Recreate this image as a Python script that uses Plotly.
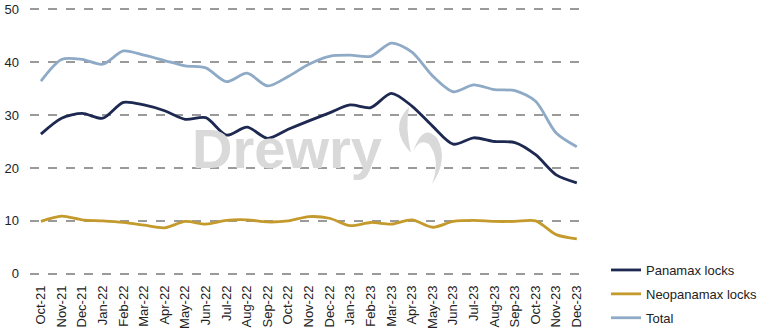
import plotly.graph_objects as go

months = ["Oct-21","Nov-21","Dec-21","Jan-22","Feb-22","Mar-22","Apr-22","May-22","Jun-22",
          "Jul-22","Aug-22","Sep-22","Oct-22","Nov-22","Dec-22","Jan-23","Feb-23","Mar-23",
          "Apr-23","May-23","Jun-23","Jul-23","Aug-23","Sep-23","Oct-23","Nov-23","Dec-23"]

panamax = [26.4, 29.4, 30.3, 29.4, 32.4, 31.9, 30.8, 29.2, 29.5,
           26.2, 27.7, 25.6, 27.3, 28.9, 30.4, 31.9, 31.4, 34.1,
           31.7, 27.9, 24.5, 25.7, 25.0, 24.8, 22.5, 18.7, 17.2]

neopanamax = [9.9, 10.9, 10.2, 10.0, 9.7, 9.2, 8.7, 9.9, 9.4,
              10.1, 10.2, 9.8, 10.0, 10.8, 10.5, 9.1, 9.7, 9.4,
              10.2, 8.8, 9.9, 10.1, 9.9, 9.9, 10.0, 7.4, 6.6]

total = [36.4, 40.5, 40.5, 39.6, 42.1, 41.3, 40.3, 39.3, 38.9,
         36.3, 37.9, 35.5, 37.3, 39.6, 41.1, 41.3, 41.1, 43.6,
         41.9, 37.4, 34.4, 35.7, 34.8, 34.6, 32.6, 26.6, 24.0]

y_ticks = [0, 10, 20, 30, 40, 50]

series = [("Panamax locks", panamax, "#1d2951"),
          ("Neopanamax locks", neopanamax, "#c39a2b"),
          ("Total", total, "#8eaac6")]

# layout geometry (pixels)
L, R, T, B = 30, 583, 6, 277
W, H = R - L, B - T


def px(x, y):
    return (x - L) / W, (B - y) / H


def path(cmds):
    out = []
    for c in cmds:
        if isinstance(c, str):
            out.append(c)
        else:
            xx, yy = px(*c)
            out.append(f"{xx:.4f},{yy:.4f}")
    return " ".join(out)


fig = go.Figure()
for i, (name, vals, col) in enumerate(series):
    fig.add_trace(go.Scatter(x=months, y=vals, name=name, mode="lines",
                             line=dict(color=col, width=2.8, shape="spline", smoothing=0.8),
                             legendgroup=str(i)))

# watermark text
wx, wy = px(287, 148)
fig.add_annotation(text="<b>Drewry</b>", xref="paper", yref="paper",
                   x=wx, y=wy, showarrow=False,
                   font=dict(family="Liberation Sans, Arial", size=56, color="#d9d9d9"),
                   xanchor="center", yanchor="middle")

# watermark flame
flame_left = path(["M", (409, 107), "Q", (388, 128), (411, 153),
                   "Q", (405, 128), (409, 107), "Z"])
flame_right = path(["M", (413, 152), "Q", (423, 122), (437, 138),
                    "Q", (449, 160), (432, 184),
                    "Q", (441, 160), (429, 144),
                    "Q", (419, 138), (413, 152), "Z"])
for p in (flame_left, flame_right):
    fig.add_shape(type="path", path=p, xref="paper", yref="paper",
                  fillcolor="#d9d9d9", line=dict(width=0), layer="below")

lx, ly = px(606, 255)
fig.update_layout(
    width=775, height=336,
    margin=dict(l=L, r=775 - R, t=T, b=336 - B, autoexpand=False),
    paper_bgcolor="white", plot_bgcolor="white",
    font=dict(family="Liberation Sans, Arial", size=12, color="#222222"),
    legend=dict(x=lx, y=ly, xanchor="left", yanchor="top",
                tracegroupgap=4, font=dict(size=13, color="#222222"),
                bgcolor="rgba(0,0,0,0)"),
    showlegend=True,
)
fig.update_xaxes(type="category", range=[-0.53, 26.3], tickangle=-90,
                 showgrid=False, showline=False, ticks="", automargin=False,
                 ticklabelstandoff=5,
                 tickfont=dict(size=13, color="#222222"))
fig.update_yaxes(range=[-0.6, 50.6], tickvals=y_ticks, showgrid=True, gridcolor="#9a9a9a",
                 griddash="dash", gridwidth=1.6, zeroline=False, showline=False,
                 ticks="", ticklabelstandoff=10, automargin=False,
                 tickfont=dict(size=13, color="#222222"))

fig.write_html("out.html")
